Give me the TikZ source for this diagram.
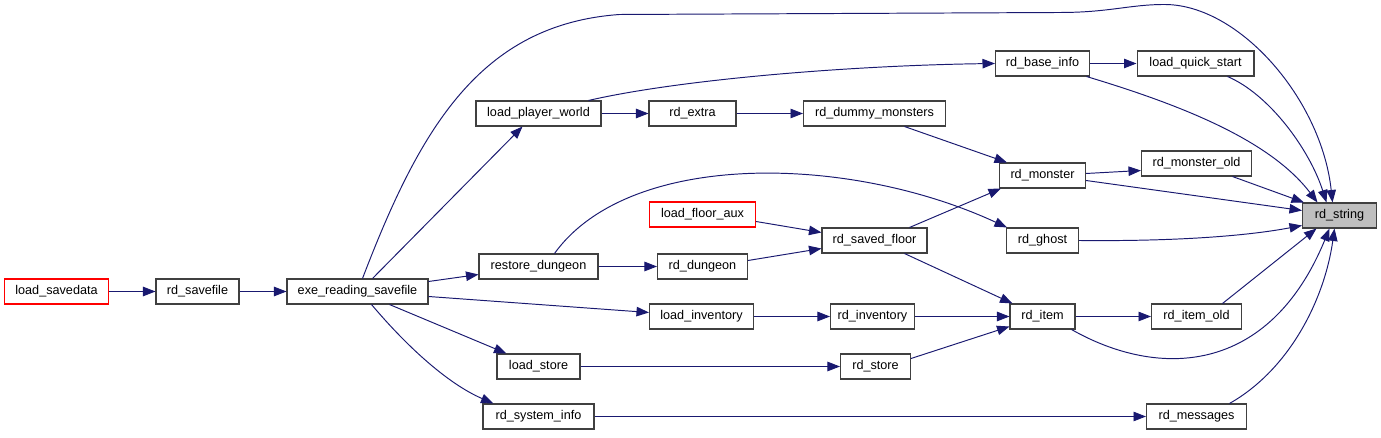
\documentclass[tikz,border=0pt]{standalone}
\usepackage{fontspec}
\setmainfont{Liberation Sans}
\usetikzlibrary{arrows.meta,calc}
\definecolor{edgeblue}{RGB}{25,25,112}
\definecolor{curgray}{RGB}{191,191,191}

\begin{document}
\begin{tikzpicture}[x=0.02cm, y=-0.02cm, font=\fontsize{7.2}{8.5}\selectfont,
  >={Triangle[length=2.5mm, width=1.9mm]},
  fn/.style={draw=black!75, line width=0.6pt, fill=white, minimum height=0.5cm, inner sep=0pt},
  ext/.style={fn, draw=red},
  cur/.style={fn, fill=curgray},
  call/.style={->, draw=edgeblue, fill=none, line width=0.55pt}]
\useasboundingbox (0.5,0.5) rectangle (1381.5,438.5);
% callers, left to right
\node[ext, minimum width=2.08cm] (lsd) at (57,292) {load\_savedata};
\node[fn, minimum width=1.66cm] (rsv) at (198,292) {rd\_savefile};
\node[fn, minimum width=2.82cm] (exe) at (358,292) {exe\_reading\_savefile};
\node[fn, minimum width=2.50cm] (lpw) at (539,114) {load\_player\_world};
\node[fn, minimum width=2.38cm] (rsd) at (539,267) {restore\_dungeon};
\node[fn, minimum width=1.66cm] (lst) at (539,367) {load\_store};
\node[fn, minimum width=2.22cm] (rsi) at (539,417) {rd\_system\_info};
\node[fn, minimum width=1.74cm] (rdx) at (693,114) {rd\_extra};
\node[ext, minimum width=2.12cm] (lfa) at (703,215) {load\_floor\_aux};
\node[fn, minimum width=1.80cm] (rdg) at (703,267) {rd\_dungeon};
\node[fn, minimum width=2.08cm] (linv) at (702,317) {load\_inventory};
\node[fn, minimum width=2.84cm] (rdm) at (875,114) {rd\_dummy\_monsters};
\node[fn, minimum width=2.10cm] (rsf) at (875,241) {rd\_saved\_floor};
\node[fn, minimum width=1.68cm] (rinv) at (873,317) {rd\_inventory};
\node[fn, minimum width=1.40cm] (rst) at (876,367) {rd\_store};
\node[fn, minimum width=1.88cm] (rbi) at (1043,64) {rd\_base\_info};
\node[fn, minimum width=1.72cm] (rmon) at (1043,176) {rd\_monster};
\node[fn, minimum width=1.44cm] (rgh) at (1043,241) {rd\_ghost};
\node[fn, minimum width=1.30cm] (ritem) at (1043,317) {rd\_item};
\node[fn, minimum width=2.34cm] (lqs) at (1196,64) {load\_quick\_start};
\node[fn, minimum width=2.20cm] (rmold) at (1197,164) {rd\_monster\_old};
\node[fn, minimum width=1.80cm] (riold) at (1197,317) {rd\_item\_old};
\node[fn, minimum width=2.00cm] (rmsg) at (1197,417) {rd\_messages};
\node[cur, minimum width=1.48cm] (rstr) at (1340,216) {rd\_string};
% straight calls
\foreach \a/\b in {lsd/rsv,rsv/exe,lpw/rdx,rdx/rdm,rbi/lqs,rsd/rdg,linv/rinv,rinv/ritem,ritem/riold,lst/rst,rsi/rmsg}
  \draw[call] (\a)--(\b);
% the rest
\draw[call] ($(exe.north)+(5,0)$) .. controls (420,130) and (480,25) .. (620,15) -- (1060,13)
  .. controls (1110,13) and (1130,5) .. (1165,5) .. controls (1240,5) and (1322,100) .. ($(rstr.north)+(-7,0)$);
\draw[call] ($(exe.north)+(15,0)$) -- ($(lpw.south)+(-16,0)$);
\draw[call] ($(exe.east)+(0,-10)$) -- ($(rsd.west)+(0,8)$);
\draw[call] ($(exe.east)+(0,5)$) -- ($(linv.west)+(0,-4)$);
\draw[call] ($(exe.south)+(32,0)$) -- ($(lst.north west)+(10,0)$);
\draw[call] ($(exe.south)+(14,0)$) .. controls (410,350) and (450,385) .. ($(rsi.north west)+(11,0)$);
\draw[call] ($(lpw.north)+(50,0)$) .. controls (680,80) and (850,66) .. (rbi.west);
\draw[call] ($(rbi.south)+(44,0)$) .. controls (1180,105) and (1270,140) .. ($(rstr.north)+(-22,0)$);
\draw[call] ($(lqs.south)+(32,0)$) .. controls (1270,95) and (1310,150) .. ($(rstr.north)+(-13,0)$);
\draw[call] ($(rdm.south)+(30,0)$) -- ($(rmon.north west)+(8,0)$);
\draw[call] ($(rmon.east)+(0,-2)$) -- ($(rmold.west)+(0,7)$);
\draw[call] ($(rmon.east)+(0,5)$) -- ($(rstr.west)+(0,-5)$);
\draw[call] ($(rmold.south)+(36,0)$) -- ($(rstr.north west)+(2,0)$);
\draw[call] ($(rsd.north)+(16,0)$) .. controls (630,150) and (850,155) .. ($(rgh.north west)+(1,0)$);
\draw[call] ($(lfa.east)+(0,7)$) -- ($(rsf.west)+(0,-8)$);
\draw[call] ($(rdg.east)+(0,-6)$) -- ($(rsf.west)+(0,8)$);
\draw[call] ($(rsf.north)+(35,0)$) -- ($(rmon.south west)+(2,0)$);
\draw[call] ($(rsf.south)+(30,0)$) -- ($(ritem.north west)+(3,0)$);
\draw[call] (rgh.east) .. controls (1180,242) and (1250,236) .. ($(rstr.west)+(0,10)$);
\draw[call] ($(rst.east)+(0,-8)$) -- ($(ritem.west)+(0,10)$);
\draw[call] ($(ritem.south)+(29,0)$) .. controls (1160,380) and (1270,375) .. ($(rstr.south)+(-10,0)$);
\draw[call] ($(riold.north)+(26,0)$) -- ($(rstr.south)+(-23,0)$);
\draw[call] ($(rmsg.north)+(33,0)$) .. controls (1290,370) and (1325,300) .. ($(rstr.south)+(-5,0)$);
\end{tikzpicture}
\end{document}
